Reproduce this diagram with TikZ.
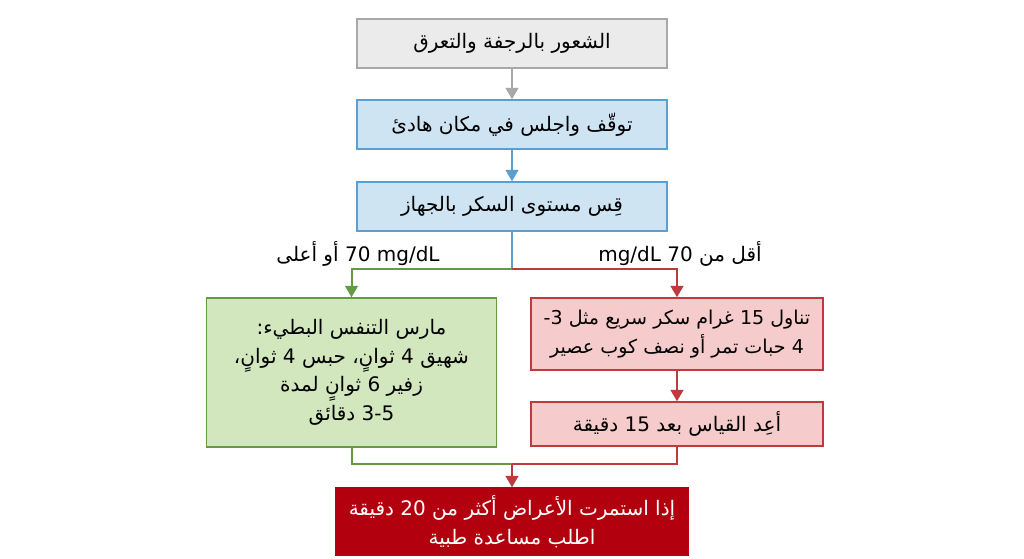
\documentclass[tikz,border=0pt]{standalone}
\usepackage{fontspec}
\usetikzlibrary{arrows.meta}
\TeXXeTstate=1
\newfontfamily\arabicfont[Script=Arabic]{DejaVu Sans}
\newcommand{\ar}[1]{\beginR #1\endR}
\definecolor{grayfill}{HTML}{EBEBEB}
\definecolor{grayline}{HTML}{A8A8A8}
\definecolor{bluefill}{HTML}{CFE4F2}
\definecolor{blueline}{HTML}{5A9ED2}
\definecolor{greenfill}{HTML}{D2E7BE}
\definecolor{greenline}{HTML}{639A42}
\definecolor{redfill}{HTML}{F6CBCB}
\definecolor{redline}{HTML}{BE3A3C}
\definecolor{darkred}{HTML}{B2000F}
\begin{document}
\begin{tikzpicture}[x=0.75pt,y=-0.75pt,
  box/.style={draw, line width=1.1pt, inner sep=0pt, align=center,
    font=\arabicfont\fontsize{15}{21.5}\selectfont},
  graybox/.style={box, fill=grayfill, draw=grayline, minimum width=232.5pt, minimum height=36.75pt},
  bluebox/.style={box, fill=bluefill, draw=blueline, minimum width=232.5pt, minimum height=36.75pt},
  greenbox/.style={box, fill=greenfill, draw=greenline, minimum width=217.5pt, minimum height=111.75pt},
  redbox/.style={box, fill=redfill, draw=redline, minimum width=219pt},
  finalbox/.style={box, fill=darkred, draw=darkred, text=white, minimum width=264pt, minimum height=50.25pt},
  lbl/.style={font=\arabicfont\fontsize{15}{18}\selectfont, inner sep=0pt},
  conn/.style={line width=1.5pt},
  tip/.style={-{Triangle[length=8.5pt,width=9.5pt]}}
]
\useasboundingbox (0,0) rectangle (1024,559);
\fill[white] (0,0) rectangle (1024,559);

\node[graybox] (b1) at (512,43.5) {\ar{الشعور بالرجفة والتعرق}};
\node[bluebox] (b2) at (512,124.5) {\ar{توقّف واجلس في مكان هادئ}};
\node[bluebox] (b3) at (512,206.5) {\ar{قِس مستوى السكر بالجهاز}};
\node[greenbox] (g) at (351.5,372.5) {\ar{مارس التنفس البطيء:}\\\ar{شهيق 4 ثوانٍ، حبس 4 ثوانٍ،}\\\ar{زفير 6 ثوانٍ لمدة}\\\ar{3-5 دقائق}};
\node[redbox, minimum height=54pt, font=\arabicfont\fontsize{14.3}{21.5}\selectfont] (r1) at (677,334) {\ar{تناول 15 غرام سكر سريع مثل 3-}\\\ar{4 حبات تمر أو نصف كوب عصير}};
\node[redbox, minimum height=33pt] (r2) at (677,424) {\ar{أعِد القياس بعد 15 دقيقة}};
\node[finalbox] (f) at (512,521.5) {\ar{إذا استمرت الأعراض أكثر من 20 دقيقة}\\\ar{اطلب مساعدة طبية}};

\node[lbl] (lg) at (358,254) {\ar{\beginL 70 mg/dL\endL{} أو أعلى}};
\node[lbl] (lr) at (680,254) {\ar{أقل من 70 mg/dL}};

\coordinate (split) at (512,269);
\coordinate (join) at (512,464);

\draw[conn, grayline, tip] (b1) -- (b2);
\draw[conn, blueline, tip] (b2) -- (b3);
\draw[conn, blueline] (b3.south) -- (split);
\draw[conn, greenline, tip] (split) -| (g.north);
\draw[conn, redline, tip] (split) -| (r1.north);
\draw[conn, redline, tip] (r1) -- (r2);
\draw[conn, greenline] (g.south) |- (join);
\draw[conn, redline] (r2.south) |- (join);
\draw[conn, redline, tip] (join) -- (f.north);
\end{tikzpicture}
\end{document}
